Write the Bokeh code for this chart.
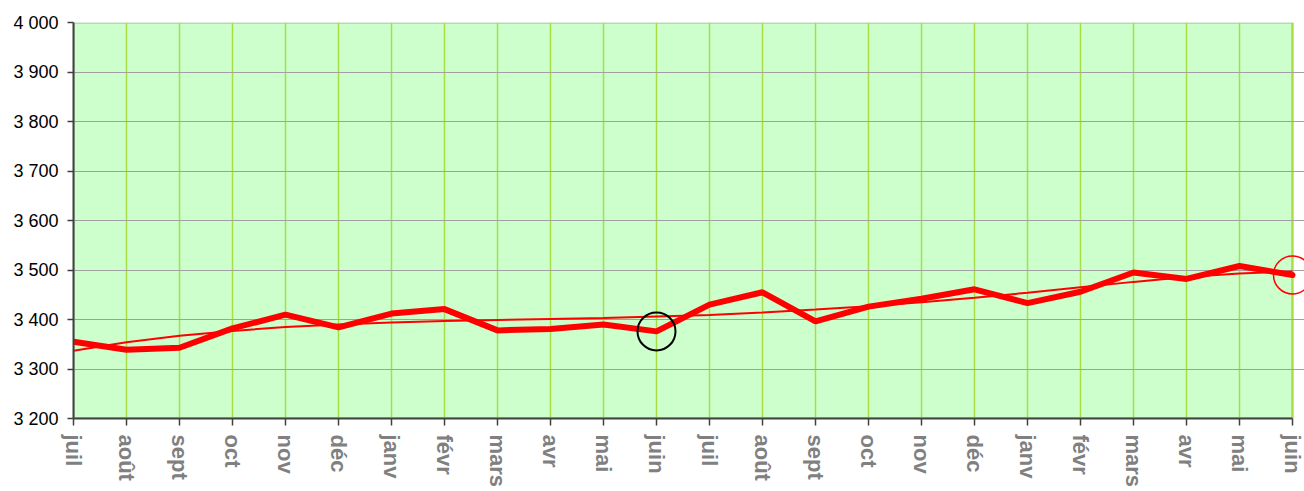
from bokeh.plotting import figure
from bokeh.models import Range1d, FixedTicker, BoxAnnotation
from bokeh.embed import file_html
from bokeh.resources import INLINE

months = ["juil", "août", "sept", "oct", "nov", "déc", "janv", "févr", "mars", "avr", "mai", "juin",
          "juil", "août", "sept", "oct", "nov", "déc", "janv", "févr", "mars", "avr", "mai", "juin"]
values = [3355, 3339, 3343, 3382, 3410, 3384, 3412, 3421, 3378, 3381, 3390, 3376,
          3430, 3455, 3396, 3426, 3442, 3461, 3433, 3456, 3495, 3482, 3508, 3490]
trend = [3337, 3354, 3367, 3377, 3385, 3390, 3394, 3397, 3399, 3401, 3403, 3406,
         3409, 3414, 3420, 3427, 3435, 3444, 3454, 3465, 3476, 3486, 3493, 3497]
y_ticks = [3200, 3300, 3400, 3500, 3600, 3700, 3800, 3900, 4000]
y_labels = ["3 200", "3 300", "3 400", "3 500", "3 600", "3 700", "3 800", "3 900", "4 000"]
black_mark = 11
red_mark = 23

x = list(range(len(months)))
last = len(months) - 1

p = figure(width=1304, height=491, output_backend="svg", toolbar_location=None,
           x_range=Range1d(0, last + 12 / 53), y_range=Range1d(y_ticks[0], y_ticks[-1]),
           min_border_left=73, min_border_right=0, min_border_top=22, min_border_bottom=73,
           background_fill_color="white", border_fill_color="white", outline_line_color=None)

# plot area background + border
p.add_layout(BoxAnnotation(left=0, right=last, bottom=y_ticks[0], top=y_ticks[-1],
                           fill_color="#ccffcc", fill_alpha=1, line_color="#808080",
                           line_width=3, level="image"))

p.xgrid.ticker = FixedTicker(ticks=x)
p.xgrid.grid_line_color = "#aadd44"
p.xgrid.grid_line_width = 1.5
p.ygrid.ticker = FixedTicker(ticks=y_ticks)
p.ygrid.grid_line_color = "#a0a0a0"
p.ygrid.grid_line_width = 1.2

# axes
p.xaxis.ticker = FixedTicker(ticks=x)
p.xaxis.major_label_overrides = {i: m for i, m in enumerate(months)}
p.xaxis.bounds = (0, last)
p.xaxis.major_label_orientation = "vertical"
p.xaxis.major_label_text_font = "Liberation Sans"
p.xaxis.major_label_text_font_style = "bold"
p.xaxis.major_label_text_font_size = "22px"
p.xaxis.major_label_text_color = "#808080"
p.xaxis.major_label_standoff = 9
p.xaxis.major_tick_out = 7
p.xaxis.major_tick_in = 0
p.xaxis.minor_tick_line_color = None
p.xaxis.axis_line_color = "#404040"
p.xaxis.axis_line_width = 2
p.xaxis.major_tick_line_color = "#404040"
p.xaxis.major_tick_line_width = 1.5

p.yaxis.ticker = FixedTicker(ticks=y_ticks)
p.yaxis.major_label_overrides = {t: l for t, l in zip(y_ticks, y_labels)}
p.yaxis.major_label_text_font = "Liberation Sans"
p.yaxis.major_label_text_font_size = "18px"
p.yaxis.major_label_text_color = "black"
p.yaxis.major_label_standoff = 9
p.yaxis.major_tick_out = 6
p.yaxis.major_tick_in = 0
p.yaxis.minor_tick_line_color = None
p.yaxis.axis_line_color = "#404040"
p.yaxis.axis_line_width = 2
p.yaxis.major_tick_line_color = "#404040"
p.yaxis.major_tick_line_width = 1.5

# data
p.line(x, trend, line_color="red", line_width=2)
p.line(x, values, line_color="red", line_width=6, line_cap="round")

p.scatter([x[black_mark]], [values[black_mark]], marker="circle", size=38,
          fill_color=None, line_color="black", line_width=2)
p.scatter([x[red_mark]], [values[red_mark]], marker="circle", size=38,
          fill_color=None, line_color="red", line_width=1.5)

open("out.html", "w").write(file_html(p, INLINE))
